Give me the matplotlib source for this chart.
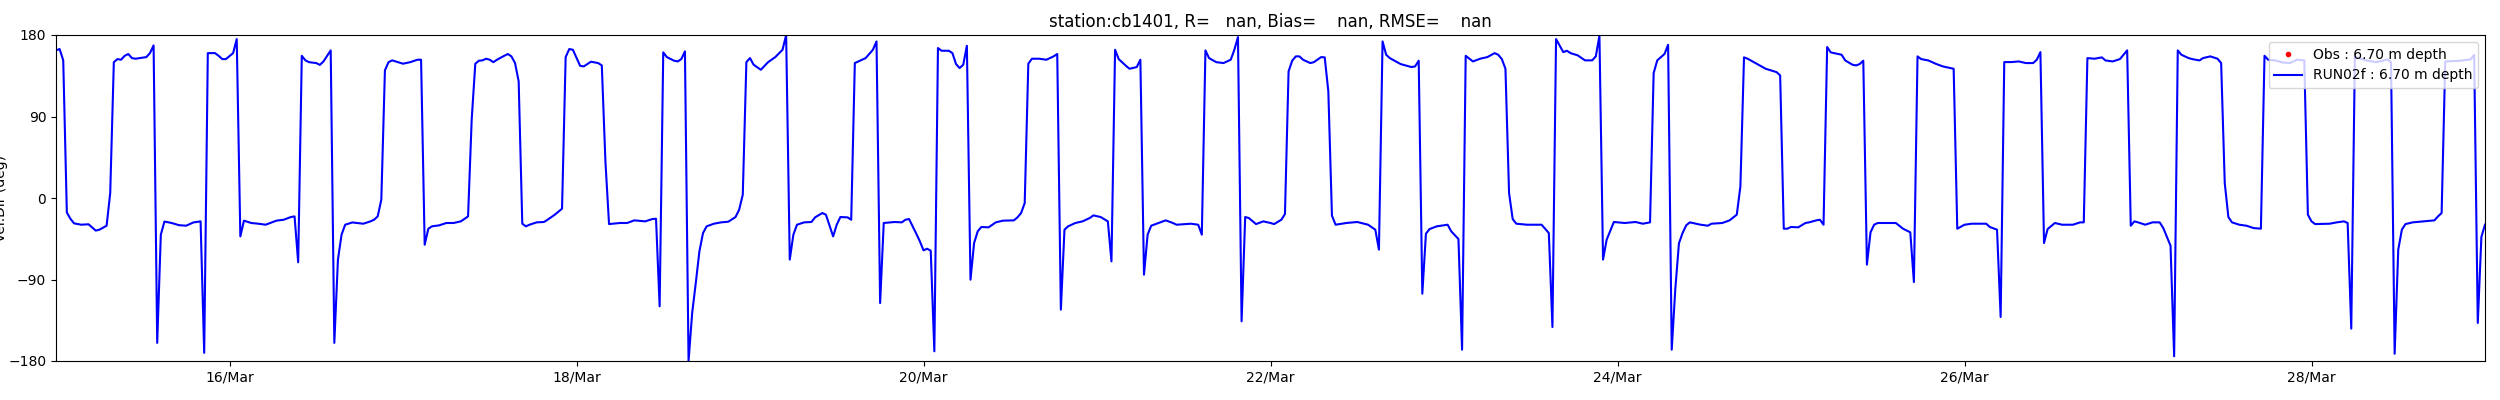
import numpy as np
import matplotlib
matplotlib.use("Agg")
import matplotlib.pyplot as plt
import matplotlib.dates as mdates

# model current direction: hours since 15 Mar 00:00, degrees
model_hours = [
    0.0, 0.5, 1.0, 1.5, 2.0, 2.5, 3.5, 4.5, 5.5, 6.0, 7.0, 7.5, 8.0, 8.5, 9.0, 9.5,
    10.0, 10.5, 11.0, 12.5, 13.0, 13.5, 14.0, 14.5, 15.0, 16.0, 17.0, 18.0, 19.0, 20.0,
    20.5, 21.0, 22.0, 22.5, 23.0, 23.5, 24.5, 25.0, 25.5, 26.0, 27.0, 28.0, 29.0, 30.5,
    31.5, 32.5, 33.0, 33.5, 34.0, 34.5, 35.0, 36.0, 36.5, 37.0, 38.0, 38.5, 39.0, 39.5,
    40.0, 41.0, 42.5, 43.5, 44.0, 44.5, 45.0, 45.5, 46.0, 46.5, 48.0, 49.0, 50.0, 50.5,
    51.0, 51.5, 52.0, 53.0, 54.0, 55.0, 56.0,
    57.0, 57.5, 58.0, 58.5, 59.0, 59.5, 60.0, 60.5, 61.0, 62.0, 62.5, 63.0, 63.5, 64.0,
    64.5, 65.0, 65.5, 66.5, 67.5, 68.0, 69.0, 70.0, 70.5, 71.0, 71.5, 72.5, 73.0, 74.0,
    75.0, 75.5, 76.0, 76.5, 78.0, 79.0, 80.0, 81.5, 82.5, 83.0, 83.5, 84.0, 84.5, 85.5,
    86.0, 86.5, 87.0, 87.5, 88.0, 88.5, 89.0, 89.5, 90.0, 91.0, 92.0, 93.0, 94.0, 94.5,
    95.0, 95.5, 96.0, 96.5, 97.5, 98.5, 99.5, 100.5, 101.0, 101.5, 102.0, 102.5, 103.5,
    104.5, 105.0, 106.0, 106.5, 107.5, 108.0, 108.5, 109.5, 110.0, 110.5, 111.0, 112.0,
    113.0, 113.5, 114.0, 114.5, 116.0, 117.0, 117.5, 118.0, 119.0, 119.5, 120.0, 120.5,
    121.0, 121.5, 122.0, 122.5, 123.5, 124.0, 124.5, 125.0, 125.5, 126.0, 126.5, 127.0,
    127.5, 128.0, 129.0, 130.0, 131.0, 132.5, 133.0, 133.5, 134.0, 134.5, 135.0, 136.0,
    137.0, 138.0, 138.5, 139.0, 139.5, 140.0, 141.0, 142.0, 143.0, 143.5, 144.5, 145.5,
    146.0, 146.5, 147.0, 148.0, 148.5, 149.5, 150.0, 150.5, 151.0, 151.5, 152.5, 153.5,
    154.5, 155.0, 157.0, 158.0, 158.5, 159.0, 159.5, 160.5, 161.5, 162.5, 163.0, 163.5,
    164.0, 164.5, 165.0, 166.0, 167.0, 168.0,
    168.5, 169.5, 170.0, 170.5, 171.0, 171.5, 172.0, 172.5, 173.5, 174.0, 175.0, 175.5,
    176.0, 176.5, 177.0, 178.5, 180.0, 181.5, 182.5, 183.0, 183.5, 184.0, 184.5, 186.0,
    187.5, 188.0, 188.5, 189.0, 189.5, 190.0, 191.0, 192.5, 193.0, 194.0, 194.5, 195.0,
    196.0, 197.0, 198.0, 199.0, 199.5, 200.0, 200.5, 201.0, 201.5, 202.0, 203.5, 205.5,
    206.5, 207.0, 207.5, 208.5, 209.0, 209.5, 210.5, 211.5, 212.5, 213.0, 213.5, 214.0,
    214.5, 215.5, 217.0, 218.5, 219.5, 220.5, 221.0, 221.5, 222.5, 223.0, 223.5, 224.0,
    224.5, 225.0, 225.5, 226.0,
    227.5, 228.5, 229.0, 230.5, 231.5, 232.5, 233.0, 233.5, 234.0, 235.5, 236.5, 238.0,
    238.5, 239.0, 239.5, 240.0, 241.0, 242.0, 242.5, 243.5, 244.0, 244.5, 245.0, 245.5,
    247.0, 247.5, 248.5, 249.0, 249.5, 250.0, 250.5, 251.0, 251.5, 252.0, 254.5, 255.5,
    256.5, 257.0, 257.5, 258.0, 259.0, 260.0, 261.0, 262.5, 263.0, 264.0, 265.0, 267.0,
    267.5, 268.5, 269.0, 269.5, 270.5, 271.5, 272.5, 273.5, 274.0, 274.5, 275.0, 275.5,
    276.5, 277.5, 279.0, 280.0,
    280.5, 281.0, 282.0, 282.5, 283.0, 283.5, 284.5, 285.5, 286.0, 286.5, 287.0, 287.5,
    288.0, 289.0, 290.0, 291.0, 291.5, 292.5, 293.0, 293.5, 294.0, 295.0, 295.5, 296.5,
    297.0, 298.0, 299.0, 299.5, 300.0, 300.5, 301.0, 302.0, 303.0, 304.0, 305.0, 305.5,
    306.0, 307.0, 308.0, 309.0, 310.0, 311.0, 311.5, 312.0, 312.5, 314.5, 315.5, 316.5,
    317.0, 317.5, 318.0, 319.5, 321.0, 322.5, 323.0, 323.5, 324.0, 324.5, 325.0, 326.0,
    327.5, 329.0, 329.5, 330.0, 330.5, 331.0, 332.5, 333.0, 334.0, 334.5, 335.0, 335.5,
    336.0,
]
model_dir = [
    163, 164.5, 152, -16, -23, -28, -29.5, -29, -36, -35, -30.6, 5.5, 150, 153.4, 152.7, 157,
    159, 154.5, 153.8, 155.6, 160, 168.5, -160, -40.5, -26, -27.6, -30, -30.6, -27, -25.8,
    -171, 160, 160, 157, 153.4, 153.4, 160, 175.5, -42.4, -25, -27.6, -28.4, -29.5, -25,
    -24, -21, -20.3, -71, 157, 152, 150, 149, 147, 150.8, 163, -160, -68, -40.5,
    -29.5, -27, -28.4, -25.8, -24, -20.3, -1.8, 141, 150, 152, 148.3, 150, 152.7, 152.7,
    -51.6, -34, -31.3, -30.2, -27.6, -27.6, -25.8,
    -20.3, 86.4, 148.3, 151.6, 152, 153.8, 152.7, 150, 152.7, 157, 159, 156.4, 149, 128.8,
    -28.4, -31.3, -29.5, -26.9, -26.5, -24, -18.4, -11.8, 155.6, 164.5, 163.7, 146, 145.3, 150.5,
    149, 146.4, 40.4, -28.8, -27.6, -27.6, -24.7, -25.8, -23.2, -22.9, -119.6, 160.8, 155.6, 151.6,
    150.8, 153.4, 161.9, -180, -127, -93.9, -58.9, -38.7, -31.3, -28.4, -26.9, -26.2, -21, -12.9,
    3.6, 150, 154.5, 147.2, 141.6, 150, 155.6, 163.7, 180, -68, -40.5, -29.5, -26.9,
    -26.5, -21.4, -16.6, -18.4, -42.4, -29.5, -21, -21.4, -24, 149, 150.8, 154.5,
    163.7, 172.9, -116, -27.6, -26.5, -26.9, -24, -23.2, -39.4, -47.9, -57.8, -56,
    -58.2, -169.3, 165.6, 162.6, 162.6, 160, 147.9, 143.5, 147.2, 168.1, -90.2, -49.7,
    -36.8, -32, -32.4, -26.9, -25, -24.7, -21.4, -16.6, -5.6, 148.3, 153.8, 153.8,
    152.7, 156.4, 159, -123.3, -35, -31.3, -27.6, -25.8, -22.1, -19.2, -21, -25.8,
    -70, 163.7, 153.4, 146, 142.7, 144.6, 152.7, -84.7, -40.5, -30.6, -27.6, -24.7,
    -27.6, -29.5, -28.4, -29.5, -40.5, 163, 154.5, 150, 149, 152.7, 163.7, 177.7,
    -136.2, -21, -22.1, -28.8, -25.8, -27.6,
    -28.8, -24, -17.7, 139.8, 151.6, 156.4, 156.4, 152.7, 149, 150, 155.6, 155.3,
    117.7, -19.5, -29.5, -27.6, -26.5, -29.5, -35, -57, 172.9, 158.2, 154.5, 147.9,
    144.6, 145.3, 151.6, -105.7, -39.4, -34.3, -31.3, -29.5, -36.8, -45.3, -167.5, 157,
    150.8, 153.8, 155.6, 160, 158.2, 153.4, 142.7, 5.5, -23.2, -28.4, -29.5, -29.5,
    -38.7, -142.5, 175.5, 161.1, 162.6, 160, 157.5, 152, 152, 156.4, 179.2, -68,
    -46, -26.5, -27.6, -26.5, -28.4, -26.9, 138, 152, 159, 169.2, -167.5, -100,
    -50, -38.7, -30.2, -26.9,
    -29.5, -30.6, -28.4, -27.6, -24.7, -18.4, 12.8, 155.3, 153.8, 147.2, 142.7, 139,
    135.4, -33.9, -33.9, -32, -32.4, -27.6, -26.9, -24.7, -24, -29.5, 166.7, 160.8,
    158.2, 151.9, 147.2, 146.4, 147.9, 151.6, -73.6, -37.9, -29.5, -27.6, -27.6, -33.9,
    -37.9, -92.8, 156.4, 153.4, 151.9, 148.3, 145.3, 142.7, -33.9, -29.5, -28.4, -28.4,
    -32, -35, -131.4, 150.1, 150.1, 150.8, 149, 149, 152.7, 161.1, -49.7, -34.3,
    -27.6, -29.5, -29.5, -26.9,
    -26.9, 154.5, 153.8, 154.5, 155.3, 151.9, 150.8, 153.4, 158.2, 163, -30.6, -25.8,
    -26.9, -29.5, -26.9, -26.9, -33.2, -52.7, -174.8, 163, 158.2, 154.5, 153.4, 151.9,
    154.5, 156.4, 153.8, 149, 16.5, -21, -26.9, -29.5, -30.6, -33.2, -33.9, 157.1,
    152.7, 151.9, 149.7, 149, 152.7, 152, -18.4, -25.8, -28.8, -28.4, -26.9, -25.8,
    -27.6, -144.3, 156, 152, 150, 153, 150, -172, -57, -35, -28.8, -26.9,
    -25.8, -24.7, -20.3, -16.6, 150.8, 151, 151.5, 152, 153, 158, -138, -43,
    -29.5,
]

# observations are all missing at this station
obs_hours = []
obs_dir = []

station = "cb1401"
depth = 6.70
start = np.datetime64("2019-03-15T00:00")

model_time = start + (np.array(model_hours) * 60).astype("timedelta64[m]")
obs_time = start + (np.array(obs_hours) * 60).astype("timedelta64[m]")

fig = plt.figure(figsize=(25, 4), dpi=100)
ax = fig.add_axes([56 / 2500, 39 / 400, 2429 / 2500, 326 / 400])

ax.plot(obs_time, obs_dir, "r.", label=f"Obs : {depth:.2f} m depth")
ax.plot(model_time, model_dir, "b-", label=f"RUN02f : {depth:.2f} m depth")

ax.set_xlim(start, start + np.timedelta64(14, "D"))
ax.set_ylim(-180, 180)
ax.set_yticks([-180, -90, 0, 90, 180])
ax.xaxis.set_major_locator(mdates.DayLocator(bymonthday=range(2, 32, 2)))
ax.xaxis.set_major_formatter(mdates.DateFormatter("%d/%b"))
ax.set_ylabel("Vel.Dir (deg)", labelpad=0)
ax.set_title(f"station:{station}, R=   nan, Bias=    nan, RMSE=    nan")
ax.legend(loc="upper right")

fig.savefig("out.png", dpi=100)
